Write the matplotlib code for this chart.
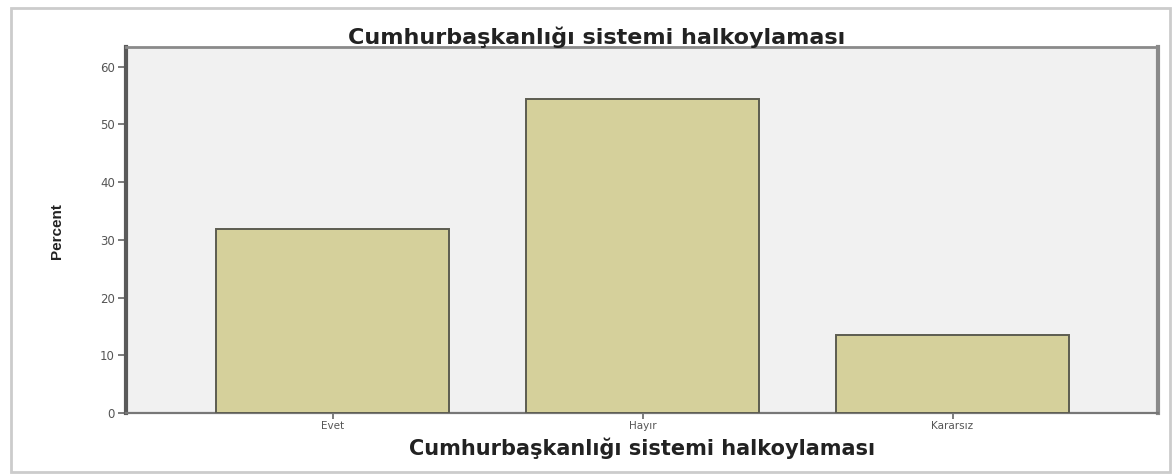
import matplotlib
matplotlib.use("Agg")
import matplotlib.pyplot as plt
from matplotlib.patches import Rectangle

categories = ["Evet", "Hayır", "Kararsız"]
percent = [31.9, 54.4, 13.5]
yticks = [0, 10, 20, 30, 40, 50, 60]
title = "Cumhurbaşkanlığı sistemi halkoylaması"

W, H = 1173, 476
fig = plt.figure(figsize=(W / 100, H / 100), dpi=100)
fig.patch.set_facecolor("white")

# outer frame
fig.patches.append(Rectangle((11 / W, 1 - 472 / H), (1170 - 11) / W, (472 - 8) / H,
                             transform=fig.transFigure, fill=False,
                             edgecolor="#cccccc", linewidth=2.0, zorder=0))

ax = fig.add_axes([126 / W, 1 - 413 / H, (1158 - 126) / W, (413 - 47) / H])
ax.set_facecolor("#f1f1f1")
x = list(range(len(categories)))
ax.bar(x, percent, width=0.75, color="#d5d09b", edgecolor="#5c5c50", linewidth=1.4, zorder=3)
ax.set_xlim(-0.667, 2.663)
ax.set_ylim(0, 63.4)
ax.set_yticks(yticks)
ax.set_yticklabels([str(v) for v in yticks], fontsize=8.5, color="#555555")
ax.set_xticks(x)
ax.set_xticklabels(categories, fontsize=7.5, color="#555555")
ax.tick_params(axis="y", length=6, width=1.2, color="#666666", pad=2)
ax.tick_params(axis="x", length=4, width=1.2, color="#666666", pad=2)

ax.spines["left"].set_linewidth(3)
ax.spines["left"].set_color("#5a5a5a")
ax.spines["bottom"].set_linewidth(1.6)
ax.spines["bottom"].set_color("#777777")
ax.spines["top"].set_linewidth(2)
ax.spines["top"].set_color("#8a8a8a")
ax.spines["right"].set_linewidth(3)
ax.spines["right"].set_color("#8a8a8a")

fig.text(597 / W, 1 - 37 / H, title, ha="center", va="center",
         fontsize=16, fontweight="bold", color="#222222", family="DejaVu Sans")
fig.text(642 / W, 1 - 448 / H, title, ha="center", va="center",
         fontsize=15, fontweight="bold", color="#222222", family="DejaVu Sans")
fig.text(57 / W, 1 - 231 / H, "Percent", ha="center", va="center", rotation=90,
         fontsize=11, fontweight="bold", color="#222222", family="Liberation Sans")

fig.savefig("out.png", dpi=100)
